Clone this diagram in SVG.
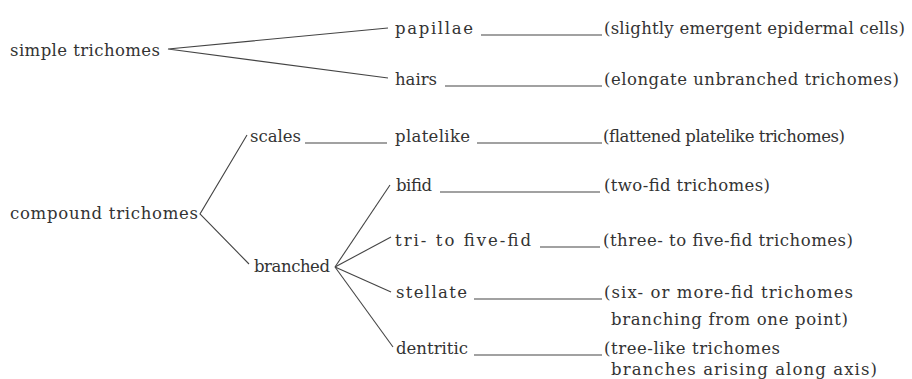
<svg xmlns="http://www.w3.org/2000/svg" width="912" height="379" viewBox="0 0 912 379">
<style>
text{font-family:"DejaVu Serif","Liberation Serif",serif;font-size:16.5px;fill:#333}
.c line,.c polyline{stroke:#444;stroke-width:1.1;fill:none}
</style>
<rect width="912" height="379" fill="#fff"/>
<g class="c" id="connectors">
<polyline points="388,28 168,49 388,78"/>
<line x1="481" y1="35" x2="602" y2="35"/>
<line x1="445" y1="86" x2="602" y2="86"/>
<polyline points="247,135 200,214 249,264"/>
<line x1="305" y1="143" x2="387" y2="143"/>
<line x1="477" y1="143" x2="602" y2="143"/>
<line x1="335" y1="267" x2="390" y2="185"/>
<line x1="335" y1="267" x2="391" y2="237"/>
<line x1="335" y1="267" x2="391" y2="292"/>
<line x1="335" y1="267" x2="393" y2="347"/>
<line x1="440" y1="192" x2="600" y2="192"/>
<line x1="540" y1="247" x2="600" y2="247"/>
<line x1="474" y1="299" x2="602" y2="299"/>
<line x1="474" y1="355" x2="602" y2="355"/>
</g>
<g id="simple"><text x="10" y="56" textLength="150" lengthAdjust="spacing">simple trichomes</text></g>
<g id="papillae"><text x="395" y="34" textLength="78" lengthAdjust="spacing">papillae</text></g>
<g id="papillae-desc"><text x="604" y="34" textLength="301" lengthAdjust="spacing">(slightly emergent epidermal cells)</text></g>
<g id="hairs"><text x="395" y="85" textLength="42" lengthAdjust="spacing">hairs</text></g>
<g id="hairs-desc"><text x="604" y="85" textLength="295" lengthAdjust="spacing">(elongate unbranched trichomes)</text></g>
<g id="compound"><text x="10" y="219" textLength="188" lengthAdjust="spacing">compound trichomes</text></g>
<g id="scales"><text x="250" y="142" textLength="51" lengthAdjust="spacing">scales</text></g>
<g id="platelike"><text x="395" y="142" textLength="75" lengthAdjust="spacing">platelike</text></g>
<g id="platelike-desc"><text x="603" y="142" textLength="242" lengthAdjust="spacing">(flattened platelike trichomes)</text></g>
<g id="branched"><text x="254" y="272" textLength="76" lengthAdjust="spacing">branched</text></g>
<g id="bifid"><text x="396" y="191" textLength="36" lengthAdjust="spacing">bifid</text></g>
<g id="bifid-desc"><text x="604" y="191" textLength="166" lengthAdjust="spacing">(two-fid trichomes)</text></g>
<g id="trifid"><text x="395" y="246" textLength="136" lengthAdjust="spacing">tri- to five-fid</text></g>
<g id="trifid-desc"><text x="603" y="246" textLength="250" lengthAdjust="spacing">(three- to five-fid trichomes)</text></g>
<g id="stellate"><text x="396" y="298" textLength="71" lengthAdjust="spacing">stellate</text></g>
<g id="stellate-desc"><text x="604" y="298" textLength="249" lengthAdjust="spacing">(six- or more-fid trichomes</text><text x="611" y="325" textLength="237" lengthAdjust="spacing">branching from one point)</text></g>
<g id="dentritic"><text x="396" y="354" textLength="72" lengthAdjust="spacing">dentritic</text></g>
<g id="dentritic-desc"><text x="604" y="354" textLength="176" lengthAdjust="spacing">(tree-like trichomes</text><text x="611" y="375" textLength="266" lengthAdjust="spacing">branches arising along axis)</text></g>
</svg>
